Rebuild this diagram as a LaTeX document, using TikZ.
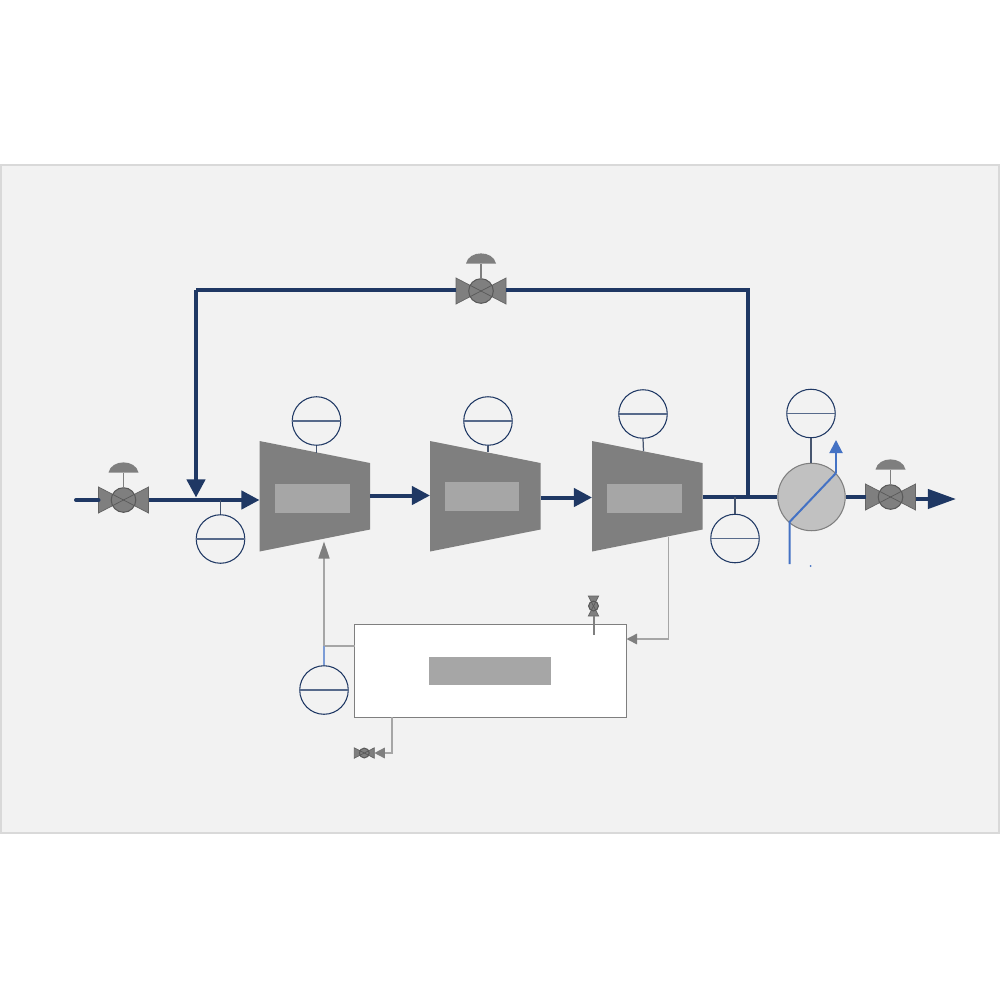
\documentclass[tikz,border=0pt]{standalone}
\usetikzlibrary{arrows.meta}
\definecolor{panelgray}{HTML}{F2F2F2}
\definecolor{paneledge}{HTML}{D9D9D9}
\definecolor{pipenavy}{HTML}{1F3864}
\definecolor{utilblue}{HTML}{4472C4}
\definecolor{bodygray}{HTML}{7F7F7F}
\definecolor{edgegray}{HTML}{595959}
\definecolor{linegray}{HTML}{A6A6A6}
\newcommand{\valvebody}{
\draw[valveedge] (-25,-13)--(0,0)--(-25,13)--cycle;
\draw[valveedge] (25,-13)--(0,0)--(25,13)--cycle;
\node[valveball] (-ball) at (0,0) {};
\draw[valvecross] (-11,-5.7)--(11,5.7);
\draw[valvecross] (-11,5.7)--(11,-5.7);
\coordinate (-w) at (-25,0);
\coordinate (-e) at (25,0);
}
\tikzset{
valveedge/.style={fill=bodygray,draw=edgegray!70!bodygray,line width=0.2pt},
valveball/.style={circle,fill=bodygray,draw=edgegray,line width=0.3pt,minimum size=0.246cm,inner sep=0pt,transform shape},
valvecross/.style={draw=edgegray,line width=0.2pt},
smallvalve/.pic={\valvebody},
valve/.pic={
\valvebody
\draw[draw=bodygray,line width=0.45pt] (0,-12)--(0,-27.5);
\fill[bodygray] (-15,-27.5) .. controls (-12,-41) and (12,-41) .. (15,-27.5) -- cycle;
},
instr/.style={circle,draw=pipenavy,line width=0.3pt,minimum size=0.485cm,inner sep=0pt},
tagline/.style={draw=pipenavy!75!white,line width=0.3pt},
stem/.style={draw=pipenavy!60!gray,line width=0.35pt},
comp/.style={fill=bodygray},
tagbox/.style={fill=linegray,minimum height=0.29cm,inner sep=0pt},
pipe/.style={draw=pipenavy,line width=0.04cm},
pipearrow/.style={pipe,-{Triangle[length=0.18cm,width=0.18cm]}},
coolant/.style={draw=utilblue,line width=0.02cm},
signal/.style={draw=linegray,line width=0.015cm},
signalarrow/.style={signal,-{Triangle[length=0.105cm,width=0.105cm,fill=bodygray,color=bodygray]}},
}
\begin{document}
\begin{tikzpicture}[x=0.01cm,y=-0.01cm]
\useasboundingbox (0,0) rectangle (1000,1000);
\draw[fill=panelgray,draw=paneledge,line width=0.4pt] (1,165) rectangle (999,833);

\fill[comp] (259.5,441)--(370,463)--(370,529.5)--(259.5,551.5)--cycle;
\fill[comp] (430,441)--(540.5,463)--(540.5,529.5)--(430,551.5)--cycle;
\fill[comp] (592,441)--(702.5,463)--(702.5,529.5)--(592,551.5)--cycle;
\node[tagbox,minimum width=0.74cm] (box1) at (312.5,498.5) {};
\node[tagbox,minimum width=0.74cm] (box2) at (482,496.5) {};
\node[tagbox,minimum width=0.74cm] (box3) at (644.5,498.7) {};

\coordinate (c1in) at (259.5,500);
\coordinate (c1out) at (370,495.5);
\coordinate (c2in) at (430,495.5);
\coordinate (c2out) at (540.5,497.5);
\coordinate (c3in) at (592,497.5);
\coordinate (c3out) at (702.5,497);
\coordinate (c1top) at (316.5,452.5);
\coordinate (c2top) at (488,452);
\coordinate (c3top) at (643.5,451);
\coordinate (c1bot) at (324,541.5);
\coordinate (c3bot) at (668.5,537);

\pic (vin) at (123.5,500) {valve};
\pic (vby) at (481,291) {valve};
\pic (vout) at (890.5,497) {valve};
\pic[scale=0.4,rotate=90] (vtop) at (593.5,606) {smallvalve};
\pic[scale=0.4] (vbot) at (364.3,753) {smallvalve};

\node[circle,fill=linegray!70!white,draw=bodygray,line width=0.3pt,minimum size=0.674cm,inner sep=0pt] (hx) at (811.5,497) {};
\node[draw=bodygray,fill=white,line width=0.4pt,minimum width=2.72cm,minimum height=0.93cm,inner sep=0pt] (tank) at (490.5,671) {};
\node[fill=linegray,minimum width=1.22cm,minimum height=0.275cm,inner sep=0pt] (tankbox) at (490,671) {};

\node[instr] (t1) at (316.5,421) {};
\node[instr] (t2) at (488,421) {};
\node[instr] (t3) at (643,414) {};
\node[instr] (t4) at (811,413.5) {};
\node[instr] (t5) at (220.5,539) {};
\node[instr] (t6) at (735,538.5) {};
\node[instr] (t7) at (324,690) {};
\foreach \n in {t1,t2,t3,t4,t5,t6,t7} \draw[tagline] (\n.west)--(\n.east);

\coordinate (start) at (76,500);
\coordinate (mixin) at (196,497.5);
\coordinate (byleft) at (196,290);
\coordinate (byright) at (748,290);
\coordinate (byoff) at (748,497);
\coordinate (t5tap) at (220.5,500);
\coordinate (t6tap) at (735,497);
\coordinate (end) at (956,499);
\coordinate (outlet) at (915.5,499);

\draw[pipe,line cap=round] (start)--(vin-w);
\draw[pipearrow] (vin-e)--(c1in);
\draw[pipearrow] (c1out)--(c2in);
\draw[pipearrow] (c2out)--(c3in);
\draw[pipe] (c3out)--(hx.west);
\draw[pipe] (hx.east)--(vout-w);
\draw[pipe,-{Triangle[length=0.28cm,width=0.19cm]}] (outlet)--(end);
\draw[pipe] (vby-e |- byright)--(byright)--(byoff);
\draw[pipe] (vby-w |- byleft)--(byleft);
\draw[pipearrow] (byleft)--(mixin);

\draw[stem] (t1.south)--(c1top);
\draw[stem] (t2.south)--(c2top);
\draw[stem] (t3.south)--(c3top);
\draw[stem] (t4.south)--(t4.south |- hx.north);
\draw[stem] (t5tap)--(t5.north);
\draw[stem] (t6tap)--(t6.north);

\coordinate (cwin) at (789.5,564);
\coordinate (cwa) at (789.5,522);
\coordinate (cwb) at (836,473);
\coordinate (cwout) at (836,440);
\draw[coolant] (cwin)--(cwa)--(cwb);
\draw[coolant,-{Triangle[length=0.13cm,width=0.13cm]}] (cwb)--(cwout);
\fill[utilblue] (810.5,566) circle (1);

\coordinate (tankin) at (626.5,639);
\coordinate (tankgas) at (354.5,646);
\coordinate (tee) at (324,646);
\coordinate (tankbot) at (392,717);
\coordinate (tankvent) at (593.5,635);
\draw[signalarrow] (c3bot)|-(tankin);
\draw[signal] (tankgas)--(tee);
\draw[signal,-{Triangle[length=0.17cm,width=0.11cm,fill=bodygray,color=bodygray]}] (tee)--(c1bot);
\draw[draw=utilblue!70!white,line width=0.012cm] (tee)--(t7.north);
\draw[signalarrow] (tankbot)|-(vbot-e);
\draw[draw=bodygray,line width=0.02cm] (vtop-w)--(tankvent);
\end{tikzpicture}
\end{document}
